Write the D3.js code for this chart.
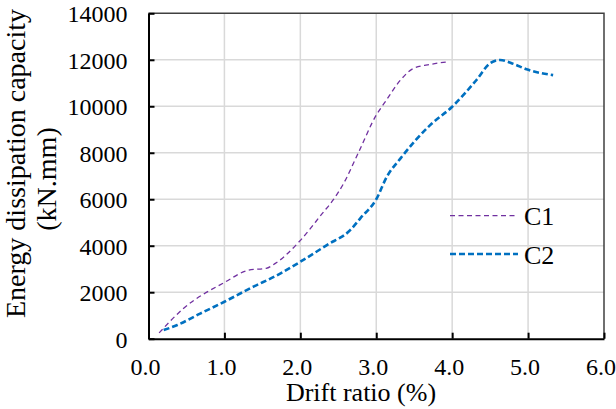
<!DOCTYPE html>
<html>
<head>
<meta charset="utf-8">
<script src="https://cdn.jsdelivr.net/npm/d3@7"></script>
<style>
  html, body { margin: 0; padding: 0; background: #fff; }
  svg { display: block; }
  svg text { font-family: "Liberation Serif", "Times New Roman", serif !important; fill: #000; }
</style>
</head>
<body>
<svg id="chart" width="616" height="409"></svg>
<script>
// Energy dissipation capacity vs drift ratio for specimens C1 and C2
const xTicks = [0, 1, 2, 3, 4, 5, 6];
const yTicks = [0, 2000, 4000, 6000, 8000, 10000, 12000, 14000];

const c1Drift  = [0.14, 0.46, 1.0, 1.32, 1.55, 1.67, 2.0, 2.29, 2.44, 2.57, 2.77, 3.0, 3.12, 3.32, 3.49, 3.71, 3.93];
const c1Energy = [250, 1300, 2420, 2950, 3030, 3240, 4230, 5390, 6000, 6680, 8040, 9620, 10200, 11130, 11630, 11800, 11910];

const c2Drift  = [0.2, 0.38, 0.68, 1.0, 1.34, 1.74, 2.0, 2.35, 2.66, 2.79, 3.0, 3.14, 3.32, 3.71, 4.0, 4.32, 4.5, 4.63, 4.81, 4.98, 5.33];
const c2Energy = [370, 590, 1080, 1590, 2170, 2810, 3310, 4030, 4680, 5180, 6000, 6970, 7760, 9190, 9980, 11130, 11850, 11990, 11820, 11590, 11340];

const seriesNames = ["C1", "C2"];

const svg = d3.select("#chart");
const x = d3.scaleLinear().domain([0, 6]).range([148.5, 604]);
const y = d3.scaleLinear().domain([0, 14000]).range([338.7, 13.3]);

// grid
svg.append("g").selectAll("line").data(xTicks.slice(1, -1)).join("line")
  .attr("x1", d => x(d)).attr("x2", d => x(d))
  .attr("y1", y(0)).attr("y2", y(14000))
  .attr("stroke", "#d9d9d9").attr("stroke-width", 1.5);
svg.append("g").selectAll("line").data(yTicks.slice(1, -1)).join("line")
  .attr("x1", x(0)).attr("x2", x(6))
  .attr("y1", d => y(d)).attr("y2", d => y(d))
  .attr("stroke", "#d9d9d9").attr("stroke-width", 1.5);

// top and right border
svg.append("path")
  .attr("d", `M${x(0)},${y(14000)}H${x(6)}V${y(0)}`)
  .attr("fill", "none").attr("stroke", "#404040").attr("stroke-width", 1.5);

// axes
const fmtX = d3.format(".1f");
const xAxis = svg.append("g").attr("transform", `translate(0,${y(0)})`)
  .call(d3.axisBottom(x).tickValues(xTicks).tickFormat(fmtX).tickSizeInner(-6).tickSizeOuter(0).tickPadding(20));
const yAxis = svg.append("g").attr("transform", `translate(${x(0)},0)`)
  .call(d3.axisLeft(y).tickValues(yTicks).tickFormat(d3.format("d")).tickSizeInner(-6).tickSizeOuter(0).tickPadding(21));

[xAxis, yAxis].forEach(g => {
  g.attr("font-family", "Liberation Serif").attr("font-size", 24);
  g.select(".domain").attr("stroke", "#000").attr("stroke-width", 2);
  g.selectAll(".tick line").attr("stroke", "#000").attr("stroke-width", 2);
  g.selectAll(".tick text").attr("fill", "#000")
    .attr("font-family", "Liberation Serif").attr("font-size", 24);
});
xAxis.selectAll(".tick text").attr("dy", "0.66em").attr("dx", -3.5);
yAxis.selectAll(".tick text").attr("dy", "0.35em");

// series lines
const line = d3.line().x(d => x(d[0])).y(d => y(d[1])).curve(d3.curveMonotoneX);
const c1 = d3.zip(c1Drift, c1Energy);
const c2 = d3.zip(c2Drift, c2Energy);

svg.append("path").datum(c1).attr("d", line)
  .attr("fill", "none").attr("stroke", "#7030A0").attr("stroke-width", 1.3)
  .attr("stroke-dasharray", "5,3.5");
svg.append("path").datum(c2).attr("d", line)
  .attr("fill", "none").attr("stroke", "#0070C0").attr("stroke-width", 2.6)
  .attr("stroke-dasharray", "6,3");

// legend
const legend = svg.append("g");
const legendRows = [
  { name: seriesNames[0], color: "#7030A0", width: 1.3, dash: "5,3.5", ly: 215.7 },
  { name: seriesNames[1], color: "#0070C0", width: 2.6, dash: "6,3", ly: 254 }
];
legendRows.forEach(r => {
  legend.append("line").attr("x1", 450).attr("x2", 518).attr("y1", r.ly).attr("y2", r.ly)
    .attr("stroke", r.color).attr("stroke-width", r.width).attr("stroke-dasharray", r.dash);
  legend.append("text").attr("x", 524).attr("y", r.ly + 9.5)
    .attr("font-size", 26).text(r.name);
});

// axis titles
svg.append("text").attr("x", 361).attr("y", 401).attr("text-anchor", "middle")
  .attr("font-size", 26).text("Drift ratio (%)");
svg.append("text").attr("transform", "translate(25,163.5) rotate(-90)").attr("text-anchor", "middle")
  .attr("font-size", 28).text("Energy dissipation capacity");
svg.append("text").attr("transform", "translate(55.5,179) rotate(-90)").attr("text-anchor", "middle")
  .attr("font-size", 28).text("(kN.mm)");
</script>
</body>
</html>
